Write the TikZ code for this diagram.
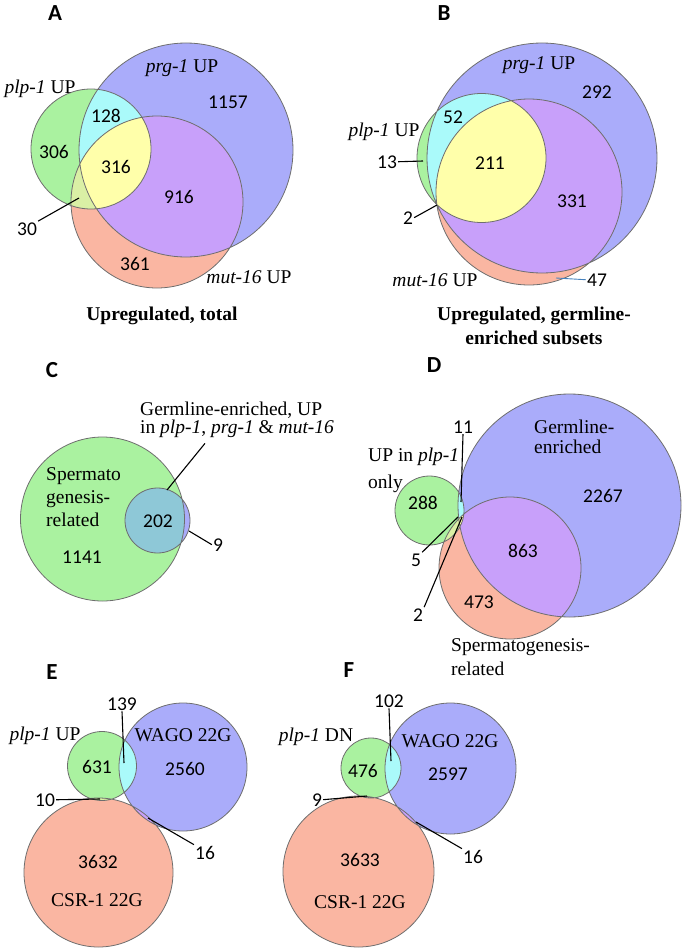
\documentclass[tikz,border=0pt]{standalone}
\usepackage{fontspec}
\setmainfont{Liberation Serif}
\newfontfamily\numfont{Carlito}
\usetikzlibrary{calc}
\definecolor{vgreen}{RGB}{170,242,160}
\definecolor{vblue}{RGB}{170,172,250}
\definecolor{vsalmon}{RGB}{250,182,162}
\definecolor{vcyan}{RGB}{170,250,250}
\definecolor{vyellow}{RGB}{255,255,170}
\definecolor{vpurple}{RGB}{200,160,250}
\definecolor{vlime}{RGB}{218,240,165}
\definecolor{vteal}{RGB}{142,200,215}
\definecolor{vring}{RGB}{110,110,110}
\definecolor{vleadblue}{RGB}{70,130,190}
\tikzstyle{num} = [font=\numfont\fontsize{19.5}{23}\selectfont, inner sep=1pt, anchor=base]
\tikzstyle{lbl} = [font=\fontsize{19.5}{24}\selectfont, inner sep=1pt, anchor=base]
\tikzstyle{captext} = [lbl, font=\bfseries\fontsize{19.5}{24}\selectfont, align=center]
\tikzstyle{panel} = [font=\numfont\bfseries\fontsize{23}{26}\selectfont, inner sep=0pt, anchor=base]
\tikzstyle{ring} = [draw=vring, line width=0.8pt]
\tikzstyle{leader} = [draw=black, line width=1.1pt]
\newcommand{\plp}{\textit{plp-1}}
\newcommand{\prg}{\textit{prg-1}}
\newcommand{\mutsix}{\textit{mut-16}}
\newcommand{\vennthree}[6]{%
  \fill[vgreen] (#1) circle (#2);
  \fill[vblue] (#3) circle (#4);
  \fill[vsalmon] (#5) circle (#6);
  \begin{scope}
    \clip (#1) circle (#2);
    \fill[vcyan] (#3) circle (#4);
    \fill[vlime] (#5) circle (#6);
  \end{scope}
  \begin{scope}
    \clip (#3) circle (#4);
    \fill[vpurple] (#5) circle (#6);
    \clip (#1) circle (#2);
    \fill[vyellow] (#5) circle (#6);
  \end{scope}
  \draw[ring] (#1) circle (#2) (#3) circle (#4) (#5) circle (#6);}

\begin{document}
\begin{tikzpicture}[x=1pt,y=-1pt]
\useasboundingbox (0,0) rectangle (683,950);

% A
\coordinate (Aplp) at (91,149);
\coordinate (Aprg) at (186,150);
\coordinate (Amut) at (157,202);
\vennthree{Aplp}{60pt}{Aprg}{107pt}{Amut}{86pt}
\node[panel] (Atag) at (55,21) {A};
\node[lbl] (Aplpl) at (40,93) {\plp{} UP};
\node[lbl] (Aprgl) at (182,72) {\prg{} UP};
\node[lbl] (Amutl) at (249,283) {\mutsix{} UP};
\node[num] (A1157) at (228,108) {1157};
\node[num] (A128) at (106,122) {128};
\node[num] (A306) at (54,158) {306};
\node[num] (A316) at (116,173) {316};
\node[num] (A916) at (179,203) {916};
\node[num] (A30) at (27,235) {30};
\node[num] (A361) at (135,270) {361};
\node[captext] (Acap) at (162,320) {Upregulated, total};
\coordinate (A30end) at (79,198);
\draw[leader] (A30.north east) -- (A30end);

% B
\coordinate (Bplp) at (481.5,158);
\coordinate (Bprg) at (542,158);
\coordinate (Bmut) at (529,192);
\vennthree{Bplp}{64.5pt}{Bprg}{115pt}{Bmut}{93pt}
\node[panel] (Btag) at (444,21) {B};
\node[lbl] (Bprgl) at (539,70) {\prg{} UP};
\node[lbl] (Bplpl) at (384,136) {\plp{} UP};
\node[lbl] (Bmutl) at (435,286) {\mutsix{} UP};
\node[num] (B292) at (597,99) {292};
\node[num] (B52) at (453,123) {52};
\node[num] (B13) at (387,168) {13};
\node[num] (B211) at (490,169) {211};
\node[num] (B331) at (572,207) {331};
\node[num] (B2) at (408,224) {2};
\node[num] (B47) at (597,286) {47};
\node[captext] (Bcap) at (534,344) {Upregulated, germline-\\enriched subsets};
\coordinate (B13end) at (423,161);
\coordinate (B2end) at (437,205);
\coordinate (B47end) at (556,278);
\draw[leader] (B13.east) -- (B13end);
\draw[leader] (B2.east) -- (B2end);
\draw[leader, draw=vleadblue, line width=0.9pt] (B47.west) -- (B47end);

% C
\coordinate (Cspc) at (102.5,519);
\coordinate (Cgec) at (157.5,520.5);
\fill[vgreen] (Cspc) circle (82pt);
\fill[vblue] (Cgec) circle (32.5pt);
\begin{scope}
  \clip (Cspc) circle (82pt);
  \fill[vteal] (Cgec) circle (32.5pt);
\end{scope}
\draw[ring] (Cspc) circle (82pt) (Cgec) circle (32.5pt);
\node[panel] (Ctag) at (52,377) {C};
\node[lbl, anchor=base west, align=left, font=\fontsize{19.5}{18}\selectfont] (Cgerml) at (139,433)
  {Germline-enriched, UP\\in \plp, \prg{} \& \mutsix};
\node[lbl, anchor=base west, align=left, font=\fontsize{19.5}{23}\selectfont] (Cspel) at (45,526)
  {Spermato\\genesis-\\related};
\node[num] (C202) at (158,527) {202};
\node[num] (C1141) at (82,563) {1141};
\node[num] (C9) at (218,551) {9};
\coordinate (Cgermend) at (167,490);
\coordinate (C9end) at (189,531);
\draw[leader] ($(Cgerml.south west)+(66,5)$) -- (Cgermend);
\draw[leader] (C9.west) -- (C9end);

% D
\coordinate (Dplp) at (429.5,510.5);
\coordinate (Dger) at (569.5,505.5);
\coordinate (Dspe) at (510,568);
\vennthree{Dplp}{34.5pt}{Dger}{111.5pt}{Dspe}{71pt}
\node[panel] (Dtag) at (434,372) {D};
\node[lbl, anchor=base west, align=left, font=\fontsize{19.5}{20}\selectfont] (Dgerl) at (533,453)
  {Germline-\\enriched};
\node[lbl, anchor=base west, align=left, font=\fontsize{19.5}{27}\selectfont] (Dplpl) at (367,488)
  {UP in \plp\\only};
\node[lbl, anchor=base west, align=left] (Dspel) at (450,675)
  {Spermatogenesis-\\related};
\node[num] (D11) at (463,433) {11};
\node[num] (D288) at (423,509) {288};
\node[num] (D2267) at (603,502) {2267};
\node[num] (D863) at (523,557) {863};
\node[num] (D5) at (416,566) {5};
\node[num] (D473) at (479,608) {473};
\node[num] (D2) at (418,621) {2};
\coordinate (D11end) at (461,502);
\coordinate (D5end) at (458,517);
\coordinate (D2end) at (462,517);
\draw[leader] (D11.south) -- (D11end);
\draw[leader] (D5.north east) -- (D5end);
\draw[leader] (D2.north east) -- (D2end);

% E
\coordinate (Eplp) at (102,766);
\coordinate (Ewago) at (183,767);
\coordinate (Ecsr) at (98.5,872.5);
\vennthree{Eplp}{34.5pt}{Ewago}{64pt}{Ecsr}{74.5pt}
\node[panel] (Etag) at (52,679) {E};
\node[lbl] (Eplpl) at (45,740) {\plp{} UP};
\node[lbl] (Ewagol) at (183,741) {WAGO 22G};
\node[lbl] (Ecsrl) at (97,906) {CSR-1 22G};
\node[num] (E139) at (122,710) {139};
\node[num] (E631) at (97,773) {631};
\node[num] (E2560) at (185,775) {2560};
\node[num] (E10) at (45,806) {10};
\node[num] (E16) at (205,859) {16};
\node[num] (E3632) at (98,868) {3632};
\coordinate (E139end) at (124,763);
\coordinate (E10end) at (100,799);
\coordinate (E16end) at (148,818);
\draw[leader] (E139.south) -- (E139end);
\draw[leader] (E10.east) -- (E10end);
\draw[leader] (E16.north west) -- (E16end);

% F
\coordinate (Fplp) at (371,768);
\coordinate (Fwago) at (450.5,768.5);
\coordinate (Fcsr) at (358.5,871.5);
\vennthree{Fplp}{30pt}{Fwago}{65.5pt}{Fcsr}{75.5pt}
\node[panel] (Ftag) at (349,677) {F};
\node[lbl] (Fplpl) at (316,741) {\plp{} DN};
\node[lbl] (Fwagol) at (450,747) {WAGO 22G};
\node[lbl] (Fcsrl) at (360,908) {CSR-1 22G};
\node[num] (F102) at (389,707) {102};
\node[num] (F476) at (363,777) {476};
\node[num] (F2597) at (448,780) {2597};
\node[num] (F9) at (317,806) {9};
\node[num] (F16) at (473,863) {16};
\node[num] (F3633) at (360,866) {3633};
\coordinate (F102end) at (391,761);
\coordinate (F9end) at (367,796);
\coordinate (F16end) at (416,822);
\draw[leader] (F102.south) -- (F102end);
\draw[leader] (F9.east) -- (F9end);
\draw[leader] (F16.north west) -- (F16end);
\end{tikzpicture}
\end{document}
